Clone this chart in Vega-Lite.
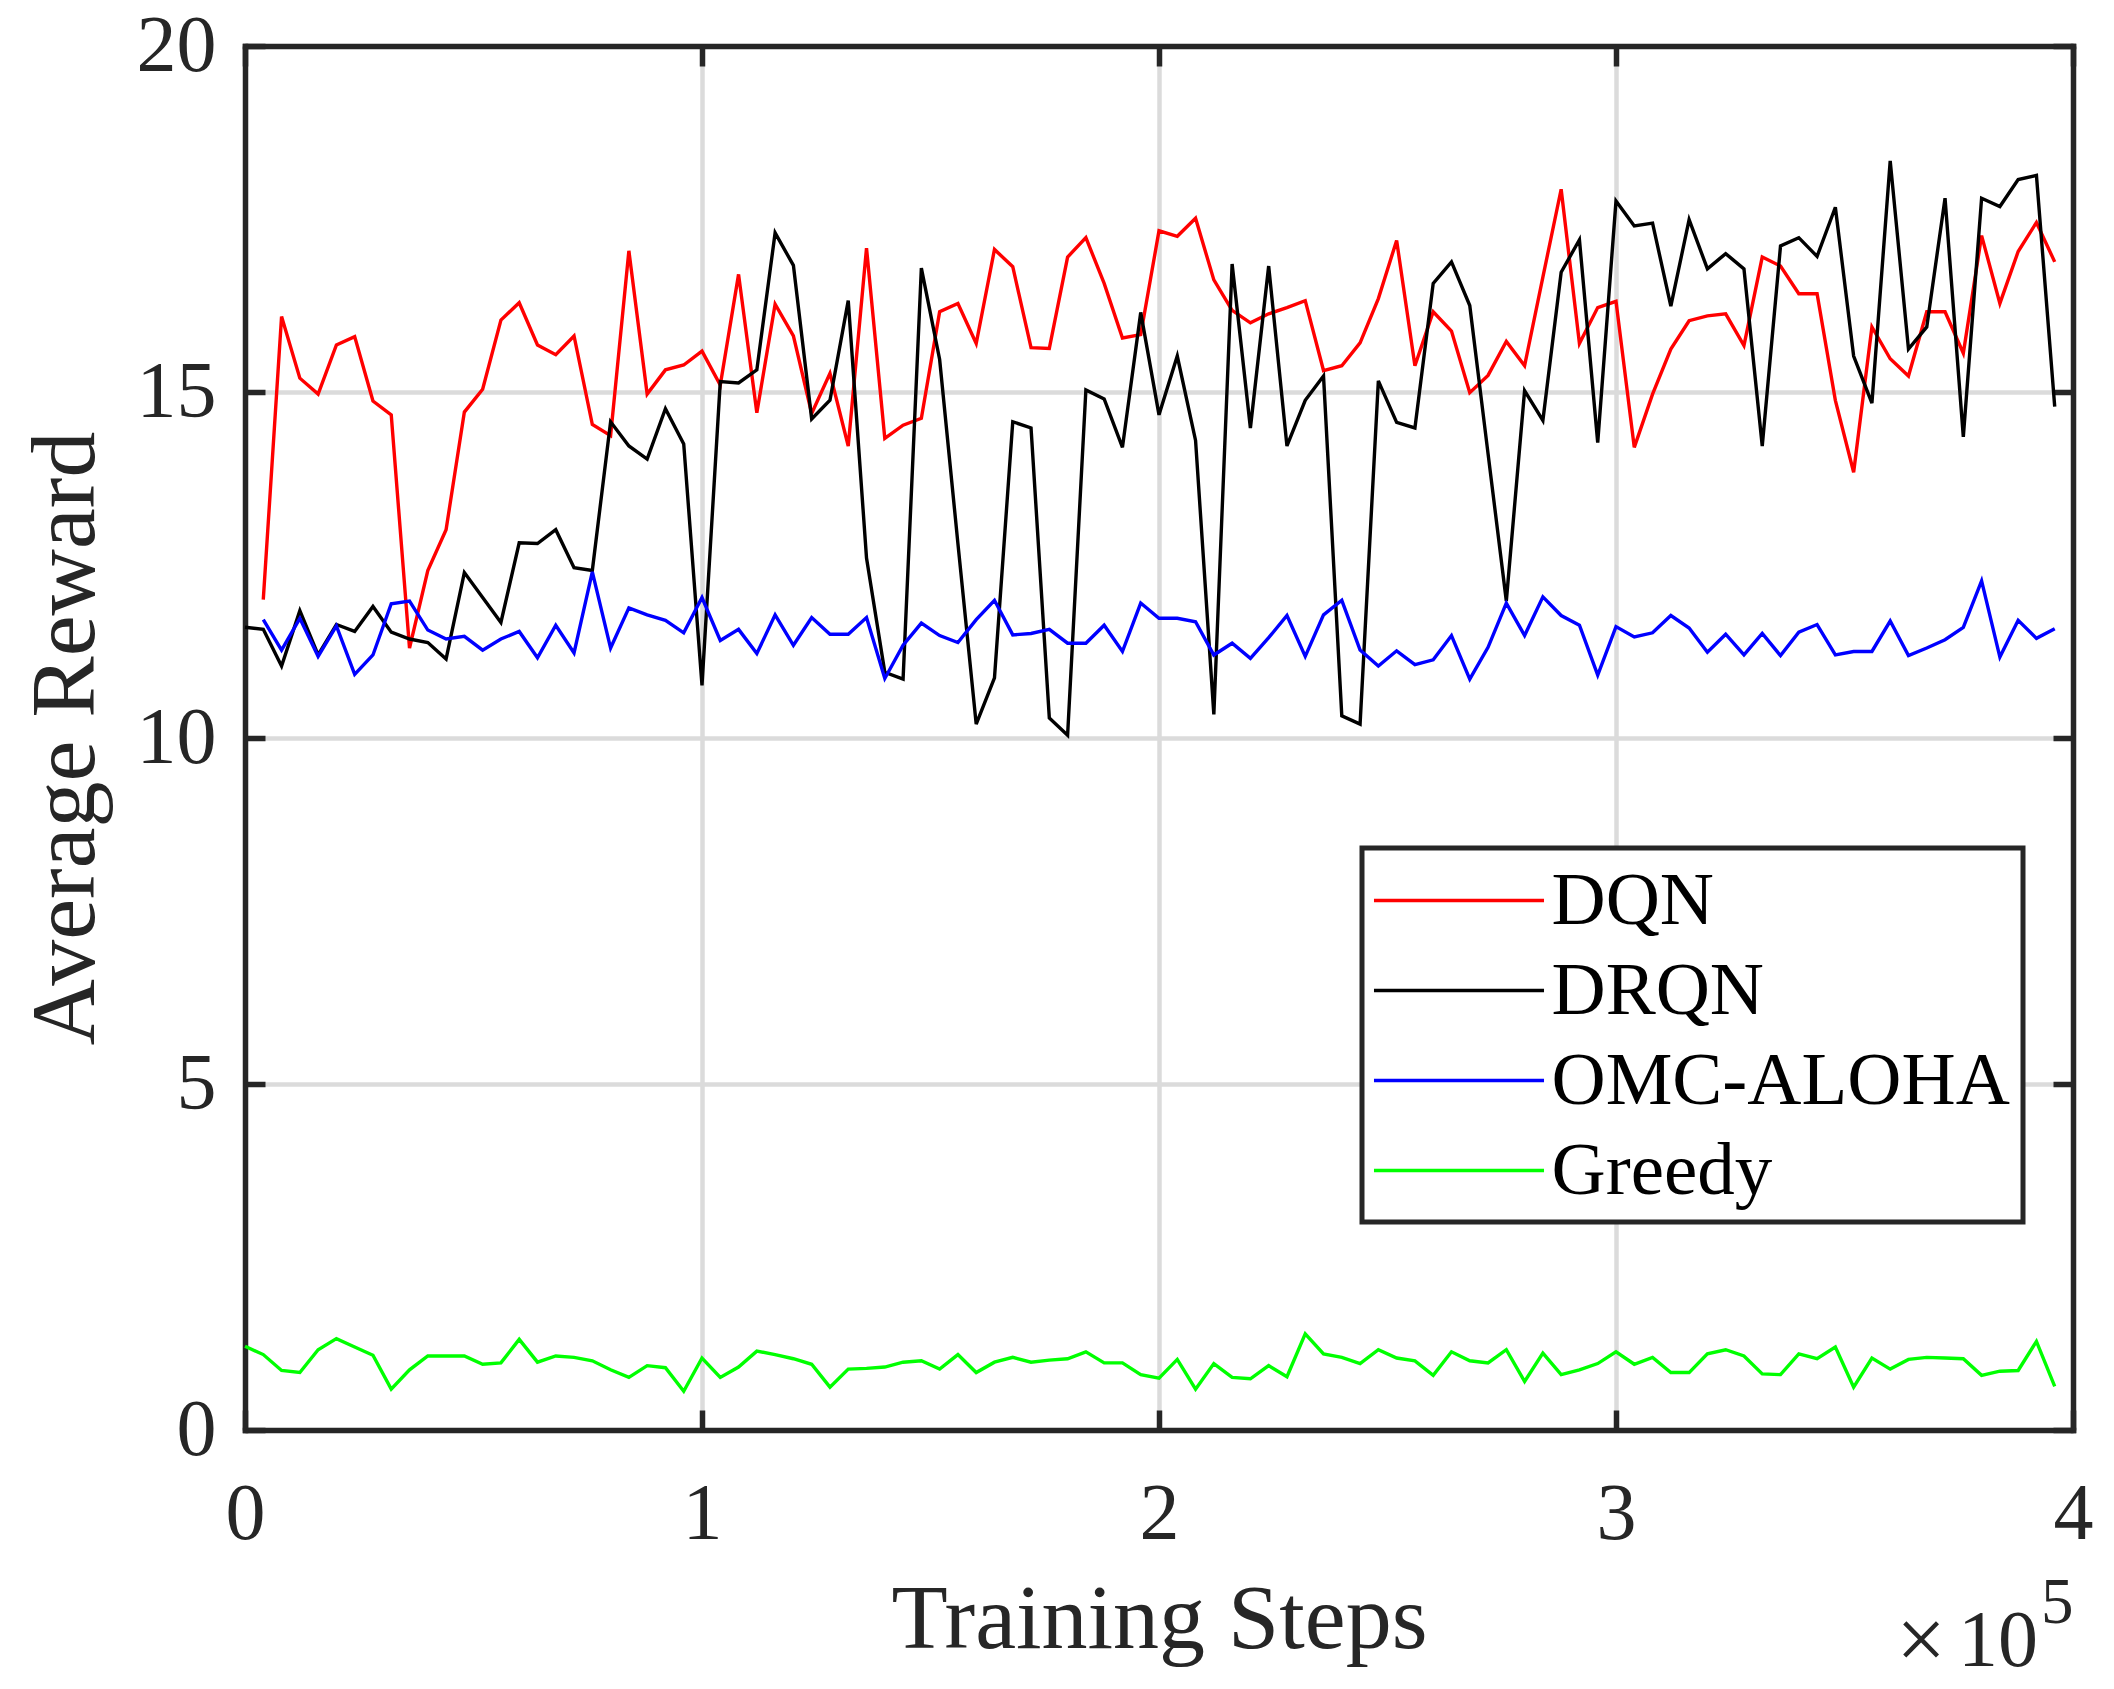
{
  "$schema": "https://vega.github.io/schema/vega-lite/v6.json",
  "width": 1828,
  "height": 1384,
  "autosize": {"type": "none"},
  "padding": {"left": 245, "top": 46, "right": 41, "bottom": 259},
  "background": "white",
  "config": {
    "view": {"stroke": null},
    "font": "Liberation Serif",
    "axis": {
      "domainColor": "#262626",
      "domainWidth": 5.5,
      "domainCap": "square",
      "tickColor": "#262626",
      "tickWidth": 5.5,
      "tickSize": -20,
      "labelFont": "Liberation Serif",
      "labelFontSize": 80,
      "labelColor": "#262626",
      "titleFont": "Liberation Serif",
      "titleFontSize": 92,
      "titleFontWeight": "normal",
      "titleColor": "#262626",
      "gridColor": "#dbdbdb",
      "gridWidth": 4.5,
      "gridOpacity": 1
    },
    "legend": {
      "strokeColor": "#262626",
      "strokeWidth": 5,
      "fillColor": "white"
    }
  },
  "data": {
    "values": [
      {"series": "DQN", "step": 4000, "reward": 12.0},
      {"series": "DQN", "step": 8000, "reward": 16.09},
      {"series": "DQN", "step": 12000, "reward": 15.2},
      {"series": "DQN", "step": 16000, "reward": 14.97},
      {"series": "DQN", "step": 20000, "reward": 15.68},
      {"series": "DQN", "step": 24000, "reward": 15.8},
      {"series": "DQN", "step": 28000, "reward": 14.87},
      {"series": "DQN", "step": 32000, "reward": 14.67},
      {"series": "DQN", "step": 36000, "reward": 11.3},
      {"series": "DQN", "step": 40000, "reward": 12.42},
      {"series": "DQN", "step": 44000, "reward": 13.01},
      {"series": "DQN", "step": 48000, "reward": 14.71},
      {"series": "DQN", "step": 52000, "reward": 15.04},
      {"series": "DQN", "step": 56000, "reward": 16.04},
      {"series": "DQN", "step": 60000, "reward": 16.29},
      {"series": "DQN", "step": 64000, "reward": 15.68},
      {"series": "DQN", "step": 68000, "reward": 15.54},
      {"series": "DQN", "step": 72000, "reward": 15.81},
      {"series": "DQN", "step": 76000, "reward": 14.53},
      {"series": "DQN", "step": 80000, "reward": 14.37},
      {"series": "DQN", "step": 84000, "reward": 17.04},
      {"series": "DQN", "step": 88000, "reward": 14.97},
      {"series": "DQN", "step": 92000, "reward": 15.32},
      {"series": "DQN", "step": 96000, "reward": 15.39},
      {"series": "DQN", "step": 100000, "reward": 15.59},
      {"series": "DQN", "step": 104000, "reward": 15.1},
      {"series": "DQN", "step": 108000, "reward": 16.7},
      {"series": "DQN", "step": 112000, "reward": 14.7},
      {"series": "DQN", "step": 116000, "reward": 16.27},
      {"series": "DQN", "step": 120000, "reward": 15.81},
      {"series": "DQN", "step": 124000, "reward": 14.69},
      {"series": "DQN", "step": 128000, "reward": 15.27},
      {"series": "DQN", "step": 132000, "reward": 14.22},
      {"series": "DQN", "step": 136000, "reward": 17.08},
      {"series": "DQN", "step": 140000, "reward": 14.33},
      {"series": "DQN", "step": 144000, "reward": 14.52},
      {"series": "DQN", "step": 148000, "reward": 14.62},
      {"series": "DQN", "step": 152000, "reward": 16.16},
      {"series": "DQN", "step": 156000, "reward": 16.28},
      {"series": "DQN", "step": 160000, "reward": 15.7},
      {"series": "DQN", "step": 164000, "reward": 17.06},
      {"series": "DQN", "step": 168000, "reward": 16.81},
      {"series": "DQN", "step": 172000, "reward": 15.64},
      {"series": "DQN", "step": 176000, "reward": 15.63},
      {"series": "DQN", "step": 180000, "reward": 16.95},
      {"series": "DQN", "step": 184000, "reward": 17.23},
      {"series": "DQN", "step": 188000, "reward": 16.57},
      {"series": "DQN", "step": 192000, "reward": 15.78},
      {"series": "DQN", "step": 196000, "reward": 15.83},
      {"series": "DQN", "step": 200000, "reward": 17.33},
      {"series": "DQN", "step": 204000, "reward": 17.25},
      {"series": "DQN", "step": 208000, "reward": 17.51},
      {"series": "DQN", "step": 212000, "reward": 16.62},
      {"series": "DQN", "step": 216000, "reward": 16.18},
      {"series": "DQN", "step": 220000, "reward": 16.0},
      {"series": "DQN", "step": 224000, "reward": 16.13},
      {"series": "DQN", "step": 228000, "reward": 16.22},
      {"series": "DQN", "step": 232000, "reward": 16.32},
      {"series": "DQN", "step": 236000, "reward": 15.31},
      {"series": "DQN", "step": 240000, "reward": 15.38},
      {"series": "DQN", "step": 244000, "reward": 15.71},
      {"series": "DQN", "step": 248000, "reward": 16.35},
      {"series": "DQN", "step": 252000, "reward": 17.19},
      {"series": "DQN", "step": 256000, "reward": 15.38},
      {"series": "DQN", "step": 260000, "reward": 16.16},
      {"series": "DQN", "step": 264000, "reward": 15.88},
      {"series": "DQN", "step": 268000, "reward": 14.99},
      {"series": "DQN", "step": 272000, "reward": 15.24},
      {"series": "DQN", "step": 276000, "reward": 15.73},
      {"series": "DQN", "step": 280000, "reward": 15.38},
      {"series": "DQN", "step": 284000, "reward": 16.66},
      {"series": "DQN", "step": 288000, "reward": 17.93},
      {"series": "DQN", "step": 292000, "reward": 15.7},
      {"series": "DQN", "step": 296000, "reward": 16.22},
      {"series": "DQN", "step": 300000, "reward": 16.31},
      {"series": "DQN", "step": 304000, "reward": 14.2},
      {"series": "DQN", "step": 308000, "reward": 14.97},
      {"series": "DQN", "step": 312000, "reward": 15.62},
      {"series": "DQN", "step": 316000, "reward": 16.03},
      {"series": "DQN", "step": 320000, "reward": 16.1},
      {"series": "DQN", "step": 324000, "reward": 16.13},
      {"series": "DQN", "step": 328000, "reward": 15.67},
      {"series": "DQN", "step": 332000, "reward": 16.95},
      {"series": "DQN", "step": 336000, "reward": 16.82},
      {"series": "DQN", "step": 340000, "reward": 16.42},
      {"series": "DQN", "step": 344000, "reward": 16.42},
      {"series": "DQN", "step": 348000, "reward": 14.88},
      {"series": "DQN", "step": 352000, "reward": 13.84},
      {"series": "DQN", "step": 356000, "reward": 15.94},
      {"series": "DQN", "step": 360000, "reward": 15.48},
      {"series": "DQN", "step": 364000, "reward": 15.23},
      {"series": "DQN", "step": 368000, "reward": 16.16},
      {"series": "DQN", "step": 372000, "reward": 16.16},
      {"series": "DQN", "step": 376000, "reward": 15.56},
      {"series": "DQN", "step": 380000, "reward": 17.26},
      {"series": "DQN", "step": 384000, "reward": 16.28},
      {"series": "DQN", "step": 388000, "reward": 17.03},
      {"series": "DQN", "step": 392000, "reward": 17.45},
      {"series": "DQN", "step": 396000, "reward": 16.88},
      {"series": "DRQN", "step": 0, "reward": 11.6},
      {"series": "DRQN", "step": 4000, "reward": 11.57},
      {"series": "DRQN", "step": 8000, "reward": 11.04},
      {"series": "DRQN", "step": 12000, "reward": 11.84},
      {"series": "DRQN", "step": 16000, "reward": 11.2},
      {"series": "DRQN", "step": 20000, "reward": 11.64},
      {"series": "DRQN", "step": 24000, "reward": 11.54},
      {"series": "DRQN", "step": 28000, "reward": 11.9},
      {"series": "DRQN", "step": 32000, "reward": 11.53},
      {"series": "DRQN", "step": 36000, "reward": 11.43},
      {"series": "DRQN", "step": 40000, "reward": 11.38},
      {"series": "DRQN", "step": 44000, "reward": 11.14},
      {"series": "DRQN", "step": 48000, "reward": 12.39},
      {"series": "DRQN", "step": 52000, "reward": 12.03},
      {"series": "DRQN", "step": 56000, "reward": 11.67},
      {"series": "DRQN", "step": 60000, "reward": 12.82},
      {"series": "DRQN", "step": 64000, "reward": 12.81},
      {"series": "DRQN", "step": 68000, "reward": 13.01},
      {"series": "DRQN", "step": 72000, "reward": 12.46},
      {"series": "DRQN", "step": 76000, "reward": 12.42},
      {"series": "DRQN", "step": 80000, "reward": 14.57},
      {"series": "DRQN", "step": 84000, "reward": 14.22},
      {"series": "DRQN", "step": 88000, "reward": 14.03},
      {"series": "DRQN", "step": 92000, "reward": 14.76},
      {"series": "DRQN", "step": 96000, "reward": 14.25},
      {"series": "DRQN", "step": 100000, "reward": 10.76},
      {"series": "DRQN", "step": 104000, "reward": 15.15},
      {"series": "DRQN", "step": 108000, "reward": 15.13},
      {"series": "DRQN", "step": 112000, "reward": 15.32},
      {"series": "DRQN", "step": 116000, "reward": 17.3},
      {"series": "DRQN", "step": 120000, "reward": 16.83},
      {"series": "DRQN", "step": 124000, "reward": 14.61},
      {"series": "DRQN", "step": 128000, "reward": 14.88},
      {"series": "DRQN", "step": 132000, "reward": 16.32},
      {"series": "DRQN", "step": 136000, "reward": 12.6},
      {"series": "DRQN", "step": 140000, "reward": 10.95},
      {"series": "DRQN", "step": 144000, "reward": 10.85},
      {"series": "DRQN", "step": 148000, "reward": 16.79},
      {"series": "DRQN", "step": 152000, "reward": 15.47},
      {"series": "DRQN", "step": 156000, "reward": 12.81},
      {"series": "DRQN", "step": 160000, "reward": 10.2},
      {"series": "DRQN", "step": 164000, "reward": 10.87},
      {"series": "DRQN", "step": 168000, "reward": 14.57},
      {"series": "DRQN", "step": 172000, "reward": 14.48},
      {"series": "DRQN", "step": 176000, "reward": 10.29},
      {"series": "DRQN", "step": 180000, "reward": 10.04},
      {"series": "DRQN", "step": 184000, "reward": 15.03},
      {"series": "DRQN", "step": 188000, "reward": 14.9},
      {"series": "DRQN", "step": 192000, "reward": 14.2},
      {"series": "DRQN", "step": 196000, "reward": 16.15},
      {"series": "DRQN", "step": 200000, "reward": 14.67},
      {"series": "DRQN", "step": 204000, "reward": 15.52},
      {"series": "DRQN", "step": 208000, "reward": 14.3},
      {"series": "DRQN", "step": 212000, "reward": 10.34},
      {"series": "DRQN", "step": 216000, "reward": 16.85},
      {"series": "DRQN", "step": 220000, "reward": 14.48},
      {"series": "DRQN", "step": 224000, "reward": 16.82},
      {"series": "DRQN", "step": 228000, "reward": 14.22},
      {"series": "DRQN", "step": 232000, "reward": 14.88},
      {"series": "DRQN", "step": 236000, "reward": 15.23},
      {"series": "DRQN", "step": 240000, "reward": 10.32},
      {"series": "DRQN", "step": 244000, "reward": 10.2},
      {"series": "DRQN", "step": 248000, "reward": 15.16},
      {"series": "DRQN", "step": 252000, "reward": 14.56},
      {"series": "DRQN", "step": 256000, "reward": 14.48},
      {"series": "DRQN", "step": 260000, "reward": 16.57},
      {"series": "DRQN", "step": 264000, "reward": 16.88},
      {"series": "DRQN", "step": 268000, "reward": 16.25},
      {"series": "DRQN", "step": 272000, "reward": 14.11},
      {"series": "DRQN", "step": 276000, "reward": 11.98},
      {"series": "DRQN", "step": 280000, "reward": 15.02},
      {"series": "DRQN", "step": 284000, "reward": 14.59},
      {"series": "DRQN", "step": 288000, "reward": 16.73},
      {"series": "DRQN", "step": 292000, "reward": 17.2},
      {"series": "DRQN", "step": 296000, "reward": 14.27},
      {"series": "DRQN", "step": 300000, "reward": 17.76},
      {"series": "DRQN", "step": 304000, "reward": 17.4},
      {"series": "DRQN", "step": 308000, "reward": 17.44},
      {"series": "DRQN", "step": 312000, "reward": 16.24},
      {"series": "DRQN", "step": 316000, "reward": 17.49},
      {"series": "DRQN", "step": 320000, "reward": 16.78},
      {"series": "DRQN", "step": 324000, "reward": 17.0},
      {"series": "DRQN", "step": 328000, "reward": 16.78},
      {"series": "DRQN", "step": 332000, "reward": 14.22},
      {"series": "DRQN", "step": 336000, "reward": 17.11},
      {"series": "DRQN", "step": 340000, "reward": 17.23},
      {"series": "DRQN", "step": 344000, "reward": 16.96},
      {"series": "DRQN", "step": 348000, "reward": 17.67},
      {"series": "DRQN", "step": 352000, "reward": 15.52},
      {"series": "DRQN", "step": 356000, "reward": 14.84},
      {"series": "DRQN", "step": 360000, "reward": 18.34},
      {"series": "DRQN", "step": 364000, "reward": 15.62},
      {"series": "DRQN", "step": 368000, "reward": 15.94},
      {"series": "DRQN", "step": 372000, "reward": 17.8},
      {"series": "DRQN", "step": 376000, "reward": 14.35},
      {"series": "DRQN", "step": 380000, "reward": 17.8},
      {"series": "DRQN", "step": 384000, "reward": 17.68},
      {"series": "DRQN", "step": 388000, "reward": 18.07},
      {"series": "DRQN", "step": 392000, "reward": 18.13},
      {"series": "DRQN", "step": 396000, "reward": 14.79},
      {"series": "OMC-ALOHA", "step": 4000, "reward": 11.71},
      {"series": "OMC-ALOHA", "step": 8000, "reward": 11.27},
      {"series": "OMC-ALOHA", "step": 12000, "reward": 11.73},
      {"series": "OMC-ALOHA", "step": 16000, "reward": 11.18},
      {"series": "OMC-ALOHA", "step": 20000, "reward": 11.62},
      {"series": "OMC-ALOHA", "step": 24000, "reward": 10.92},
      {"series": "OMC-ALOHA", "step": 28000, "reward": 11.2},
      {"series": "OMC-ALOHA", "step": 32000, "reward": 11.94},
      {"series": "OMC-ALOHA", "step": 36000, "reward": 11.98},
      {"series": "OMC-ALOHA", "step": 40000, "reward": 11.56},
      {"series": "OMC-ALOHA", "step": 44000, "reward": 11.43},
      {"series": "OMC-ALOHA", "step": 48000, "reward": 11.47},
      {"series": "OMC-ALOHA", "step": 52000, "reward": 11.27},
      {"series": "OMC-ALOHA", "step": 56000, "reward": 11.43},
      {"series": "OMC-ALOHA", "step": 60000, "reward": 11.54},
      {"series": "OMC-ALOHA", "step": 64000, "reward": 11.16},
      {"series": "OMC-ALOHA", "step": 68000, "reward": 11.63},
      {"series": "OMC-ALOHA", "step": 72000, "reward": 11.23},
      {"series": "OMC-ALOHA", "step": 76000, "reward": 12.4},
      {"series": "OMC-ALOHA", "step": 80000, "reward": 11.3},
      {"series": "OMC-ALOHA", "step": 84000, "reward": 11.88},
      {"series": "OMC-ALOHA", "step": 88000, "reward": 11.78},
      {"series": "OMC-ALOHA", "step": 92000, "reward": 11.7},
      {"series": "OMC-ALOHA", "step": 96000, "reward": 11.52},
      {"series": "OMC-ALOHA", "step": 100000, "reward": 12.03},
      {"series": "OMC-ALOHA", "step": 104000, "reward": 11.41},
      {"series": "OMC-ALOHA", "step": 108000, "reward": 11.57},
      {"series": "OMC-ALOHA", "step": 112000, "reward": 11.22},
      {"series": "OMC-ALOHA", "step": 116000, "reward": 11.78},
      {"series": "OMC-ALOHA", "step": 120000, "reward": 11.34},
      {"series": "OMC-ALOHA", "step": 124000, "reward": 11.74},
      {"series": "OMC-ALOHA", "step": 128000, "reward": 11.5},
      {"series": "OMC-ALOHA", "step": 132000, "reward": 11.5},
      {"series": "OMC-ALOHA", "step": 136000, "reward": 11.74},
      {"series": "OMC-ALOHA", "step": 140000, "reward": 10.86},
      {"series": "OMC-ALOHA", "step": 144000, "reward": 11.34},
      {"series": "OMC-ALOHA", "step": 148000, "reward": 11.66},
      {"series": "OMC-ALOHA", "step": 152000, "reward": 11.48},
      {"series": "OMC-ALOHA", "step": 156000, "reward": 11.38},
      {"series": "OMC-ALOHA", "step": 160000, "reward": 11.71},
      {"series": "OMC-ALOHA", "step": 164000, "reward": 11.99},
      {"series": "OMC-ALOHA", "step": 168000, "reward": 11.49},
      {"series": "OMC-ALOHA", "step": 172000, "reward": 11.51},
      {"series": "OMC-ALOHA", "step": 176000, "reward": 11.57},
      {"series": "OMC-ALOHA", "step": 180000, "reward": 11.37},
      {"series": "OMC-ALOHA", "step": 184000, "reward": 11.37},
      {"series": "OMC-ALOHA", "step": 188000, "reward": 11.63},
      {"series": "OMC-ALOHA", "step": 192000, "reward": 11.25},
      {"series": "OMC-ALOHA", "step": 196000, "reward": 11.95},
      {"series": "OMC-ALOHA", "step": 200000, "reward": 11.73},
      {"series": "OMC-ALOHA", "step": 204000, "reward": 11.73},
      {"series": "OMC-ALOHA", "step": 208000, "reward": 11.68},
      {"series": "OMC-ALOHA", "step": 212000, "reward": 11.2},
      {"series": "OMC-ALOHA", "step": 216000, "reward": 11.37},
      {"series": "OMC-ALOHA", "step": 220000, "reward": 11.15},
      {"series": "OMC-ALOHA", "step": 224000, "reward": 11.45},
      {"series": "OMC-ALOHA", "step": 228000, "reward": 11.77},
      {"series": "OMC-ALOHA", "step": 232000, "reward": 11.18},
      {"series": "OMC-ALOHA", "step": 236000, "reward": 11.78},
      {"series": "OMC-ALOHA", "step": 240000, "reward": 11.99},
      {"series": "OMC-ALOHA", "step": 244000, "reward": 11.27},
      {"series": "OMC-ALOHA", "step": 248000, "reward": 11.04},
      {"series": "OMC-ALOHA", "step": 252000, "reward": 11.26},
      {"series": "OMC-ALOHA", "step": 256000, "reward": 11.06},
      {"series": "OMC-ALOHA", "step": 260000, "reward": 11.13},
      {"series": "OMC-ALOHA", "step": 264000, "reward": 11.48},
      {"series": "OMC-ALOHA", "step": 268000, "reward": 10.85},
      {"series": "OMC-ALOHA", "step": 272000, "reward": 11.31},
      {"series": "OMC-ALOHA", "step": 276000, "reward": 11.95},
      {"series": "OMC-ALOHA", "step": 280000, "reward": 11.48},
      {"series": "OMC-ALOHA", "step": 284000, "reward": 12.04},
      {"series": "OMC-ALOHA", "step": 288000, "reward": 11.77},
      {"series": "OMC-ALOHA", "step": 292000, "reward": 11.63},
      {"series": "OMC-ALOHA", "step": 296000, "reward": 10.91},
      {"series": "OMC-ALOHA", "step": 300000, "reward": 11.61},
      {"series": "OMC-ALOHA", "step": 304000, "reward": 11.46},
      {"series": "OMC-ALOHA", "step": 308000, "reward": 11.52},
      {"series": "OMC-ALOHA", "step": 312000, "reward": 11.77},
      {"series": "OMC-ALOHA", "step": 316000, "reward": 11.59},
      {"series": "OMC-ALOHA", "step": 320000, "reward": 11.24},
      {"series": "OMC-ALOHA", "step": 324000, "reward": 11.5},
      {"series": "OMC-ALOHA", "step": 328000, "reward": 11.2},
      {"series": "OMC-ALOHA", "step": 332000, "reward": 11.51},
      {"series": "OMC-ALOHA", "step": 336000, "reward": 11.19},
      {"series": "OMC-ALOHA", "step": 340000, "reward": 11.53},
      {"series": "OMC-ALOHA", "step": 344000, "reward": 11.64},
      {"series": "OMC-ALOHA", "step": 348000, "reward": 11.2},
      {"series": "OMC-ALOHA", "step": 352000, "reward": 11.25},
      {"series": "OMC-ALOHA", "step": 356000, "reward": 11.25},
      {"series": "OMC-ALOHA", "step": 360000, "reward": 11.69},
      {"series": "OMC-ALOHA", "step": 364000, "reward": 11.19},
      {"series": "OMC-ALOHA", "step": 368000, "reward": 11.3},
      {"series": "OMC-ALOHA", "step": 372000, "reward": 11.42},
      {"series": "OMC-ALOHA", "step": 376000, "reward": 11.6},
      {"series": "OMC-ALOHA", "step": 380000, "reward": 12.27},
      {"series": "OMC-ALOHA", "step": 384000, "reward": 11.17},
      {"series": "OMC-ALOHA", "step": 388000, "reward": 11.7},
      {"series": "OMC-ALOHA", "step": 392000, "reward": 11.44},
      {"series": "OMC-ALOHA", "step": 396000, "reward": 11.58},
      {"series": "Greedy", "step": 0, "reward": 1.21},
      {"series": "Greedy", "step": 4000, "reward": 1.09},
      {"series": "Greedy", "step": 8000, "reward": 0.86},
      {"series": "Greedy", "step": 12000, "reward": 0.83},
      {"series": "Greedy", "step": 16000, "reward": 1.16},
      {"series": "Greedy", "step": 20000, "reward": 1.32},
      {"series": "Greedy", "step": 24000, "reward": 1.2},
      {"series": "Greedy", "step": 28000, "reward": 1.08},
      {"series": "Greedy", "step": 32000, "reward": 0.59},
      {"series": "Greedy", "step": 36000, "reward": 0.87},
      {"series": "Greedy", "step": 40000, "reward": 1.07},
      {"series": "Greedy", "step": 44000, "reward": 1.07},
      {"series": "Greedy", "step": 48000, "reward": 1.07},
      {"series": "Greedy", "step": 52000, "reward": 0.95},
      {"series": "Greedy", "step": 56000, "reward": 0.97},
      {"series": "Greedy", "step": 60000, "reward": 1.31},
      {"series": "Greedy", "step": 64000, "reward": 0.98},
      {"series": "Greedy", "step": 68000, "reward": 1.07},
      {"series": "Greedy", "step": 72000, "reward": 1.05},
      {"series": "Greedy", "step": 76000, "reward": 1.0},
      {"series": "Greedy", "step": 80000, "reward": 0.87},
      {"series": "Greedy", "step": 84000, "reward": 0.76},
      {"series": "Greedy", "step": 88000, "reward": 0.93},
      {"series": "Greedy", "step": 92000, "reward": 0.9},
      {"series": "Greedy", "step": 96000, "reward": 0.56},
      {"series": "Greedy", "step": 100000, "reward": 1.04},
      {"series": "Greedy", "step": 104000, "reward": 0.76},
      {"series": "Greedy", "step": 108000, "reward": 0.91},
      {"series": "Greedy", "step": 112000, "reward": 1.14},
      {"series": "Greedy", "step": 116000, "reward": 1.09},
      {"series": "Greedy", "step": 120000, "reward": 1.03},
      {"series": "Greedy", "step": 124000, "reward": 0.95},
      {"series": "Greedy", "step": 128000, "reward": 0.62},
      {"series": "Greedy", "step": 132000, "reward": 0.88},
      {"series": "Greedy", "step": 136000, "reward": 0.89},
      {"series": "Greedy", "step": 140000, "reward": 0.91},
      {"series": "Greedy", "step": 144000, "reward": 0.98},
      {"series": "Greedy", "step": 148000, "reward": 1.0},
      {"series": "Greedy", "step": 152000, "reward": 0.88},
      {"series": "Greedy", "step": 156000, "reward": 1.09},
      {"series": "Greedy", "step": 160000, "reward": 0.83},
      {"series": "Greedy", "step": 164000, "reward": 0.98},
      {"series": "Greedy", "step": 168000, "reward": 1.05},
      {"series": "Greedy", "step": 172000, "reward": 0.98},
      {"series": "Greedy", "step": 176000, "reward": 1.01},
      {"series": "Greedy", "step": 180000, "reward": 1.03},
      {"series": "Greedy", "step": 184000, "reward": 1.13},
      {"series": "Greedy", "step": 188000, "reward": 0.97},
      {"series": "Greedy", "step": 192000, "reward": 0.97},
      {"series": "Greedy", "step": 196000, "reward": 0.8},
      {"series": "Greedy", "step": 200000, "reward": 0.75},
      {"series": "Greedy", "step": 204000, "reward": 1.02},
      {"series": "Greedy", "step": 208000, "reward": 0.59},
      {"series": "Greedy", "step": 212000, "reward": 0.96},
      {"series": "Greedy", "step": 216000, "reward": 0.76},
      {"series": "Greedy", "step": 220000, "reward": 0.74},
      {"series": "Greedy", "step": 224000, "reward": 0.93},
      {"series": "Greedy", "step": 228000, "reward": 0.77},
      {"series": "Greedy", "step": 232000, "reward": 1.39},
      {"series": "Greedy", "step": 236000, "reward": 1.1},
      {"series": "Greedy", "step": 240000, "reward": 1.05},
      {"series": "Greedy", "step": 244000, "reward": 0.96},
      {"series": "Greedy", "step": 248000, "reward": 1.16},
      {"series": "Greedy", "step": 252000, "reward": 1.04},
      {"series": "Greedy", "step": 256000, "reward": 1.0},
      {"series": "Greedy", "step": 260000, "reward": 0.79},
      {"series": "Greedy", "step": 264000, "reward": 1.13},
      {"series": "Greedy", "step": 268000, "reward": 1.0},
      {"series": "Greedy", "step": 272000, "reward": 0.97},
      {"series": "Greedy", "step": 276000, "reward": 1.16},
      {"series": "Greedy", "step": 280000, "reward": 0.7},
      {"series": "Greedy", "step": 284000, "reward": 1.11},
      {"series": "Greedy", "step": 288000, "reward": 0.8},
      {"series": "Greedy", "step": 292000, "reward": 0.87},
      {"series": "Greedy", "step": 296000, "reward": 0.96},
      {"series": "Greedy", "step": 300000, "reward": 1.13},
      {"series": "Greedy", "step": 304000, "reward": 0.95},
      {"series": "Greedy", "step": 308000, "reward": 1.05},
      {"series": "Greedy", "step": 312000, "reward": 0.83},
      {"series": "Greedy", "step": 316000, "reward": 0.83},
      {"series": "Greedy", "step": 320000, "reward": 1.1},
      {"series": "Greedy", "step": 324000, "reward": 1.16},
      {"series": "Greedy", "step": 328000, "reward": 1.07},
      {"series": "Greedy", "step": 332000, "reward": 0.81},
      {"series": "Greedy", "step": 336000, "reward": 0.8},
      {"series": "Greedy", "step": 340000, "reward": 1.1},
      {"series": "Greedy", "step": 344000, "reward": 1.03},
      {"series": "Greedy", "step": 348000, "reward": 1.2},
      {"series": "Greedy", "step": 352000, "reward": 0.62},
      {"series": "Greedy", "step": 356000, "reward": 1.04},
      {"series": "Greedy", "step": 360000, "reward": 0.88},
      {"series": "Greedy", "step": 364000, "reward": 1.02},
      {"series": "Greedy", "step": 368000, "reward": 1.05},
      {"series": "Greedy", "step": 372000, "reward": 1.04},
      {"series": "Greedy", "step": 376000, "reward": 1.03},
      {"series": "Greedy", "step": 380000, "reward": 0.79},
      {"series": "Greedy", "step": 384000, "reward": 0.85},
      {"series": "Greedy", "step": 388000, "reward": 0.86},
      {"series": "Greedy", "step": 392000, "reward": 1.28},
      {"series": "Greedy", "step": 396000, "reward": 0.63}
    ]
  },
  "layer": [
    {
      "mark": {"type": "line", "strokeWidth": 3.4},
      "encoding": {
        "x": {
          "field": "step",
          "type": "quantitative",
          "scale": {"domain": [0, 400000], "nice": false},
          "axis": {
            "orient": "bottom",
            "values": [0, 100000, 200000, 300000, 400000],
            "labelExpr": "datum.value / 100000",
            "labelBaseline": "alphabetic",
            "labelPadding": 128,
            "labelFlush": false,
            "grid": true,
            "title": "Training Steps",
            "titleY": 217,
            "titleBaseline": "alphabetic"
          }
        },
        "y": {
          "field": "reward",
          "type": "quantitative",
          "scale": {"domain": [0, 20], "nice": false},
          "axis": {
            "orient": "left",
            "values": [0, 5, 10, 15, 20],
            "labelPadding": 49,
            "grid": true,
            "title": "Average Reward",
            "titleAngle": 270,
            "titleX": -152,
            "titleY": 692,
            "titleBaseline": "alphabetic",
            "titleAlign": "center"
          }
        },
        "color": {
          "field": "series",
          "type": "nominal",
          "scale": {
            "domain": ["DQN", "DRQN", "OMC-ALOHA", "Greedy"],
            "range": ["#ff0000", "#000000", "#0000ff", "#00ff00"]
          },
          "legend": {
            "title": null,
            "orient": "none",
            "legendX": 1117,
            "legendY": 802,
            "direction": "vertical",
            "padding": 13,
            "symbolType": "M-2.267,0H2.267",
            "symbolSize": 5625,
            "symbolStrokeWidth": 3.5,
            "symbolOffset": 44.5,
            "labelFont": "Liberation Serif",
            "labelFontSize": 75,
            "labelColor": "#000000",
            "labelOffset": 53,
            "labelLimit": 0,
            "rowPadding": 12
          }
        }
      }
    },
    {
      "mark": {"type": "line", "opacity": 0},
      "encoding": {
        "x": {
          "field": "step",
          "type": "quantitative",
          "axis": {
            "orient": "top",
            "values": [0, 100000, 200000, 300000, 400000],
            "labels": false,
            "grid": false,
            "title": null
          }
        },
        "y": {
          "field": "reward",
          "type": "quantitative",
          "axis": {
            "orient": "right",
            "values": [0, 5, 10, 15, 20],
            "labels": false,
            "grid": false,
            "title": null
          }
        }
      }
    },
    {
      "data": {"values": [{"label": "×"}]},
      "mark": {"type": "text", "align": "center", "baseline": "alphabetic", "dx": -152, "dy": 239, "fontSize": 88, "font": "Liberation Serif", "color": "#262626"},
      "encoding": {
        "x": {"datum": 400000, "type": "quantitative", "axis": null},
        "y": {"datum": 0, "type": "quantitative", "axis": null},
        "text": {"field": "label", "type": "nominal"}
      }
    },
    {
      "data": {"values": [{"label": "10"}]},
      "mark": {"type": "text", "align": "right", "baseline": "alphabetic", "dx": -35, "dy": 236, "fontSize": 80, "font": "Liberation Serif", "color": "#262626"},
      "encoding": {
        "x": {"datum": 400000, "type": "quantitative", "axis": null},
        "y": {"datum": 0, "type": "quantitative", "axis": null},
        "text": {"field": "label", "type": "nominal"}
      }
    },
    {
      "data": {"values": [{"label": "5"}]},
      "mark": {"type": "text", "align": "left", "baseline": "alphabetic", "dx": -32, "dy": 193, "fontSize": 65, "font": "Liberation Serif", "color": "#262626"},
      "encoding": {
        "x": {"datum": 400000, "type": "quantitative", "axis": null},
        "y": {"datum": 0, "type": "quantitative", "axis": null},
        "text": {"field": "label", "type": "nominal"}
      }
    }
  ],
  "resolve": {"axis": {"x": "independent", "y": "independent"}}
}
